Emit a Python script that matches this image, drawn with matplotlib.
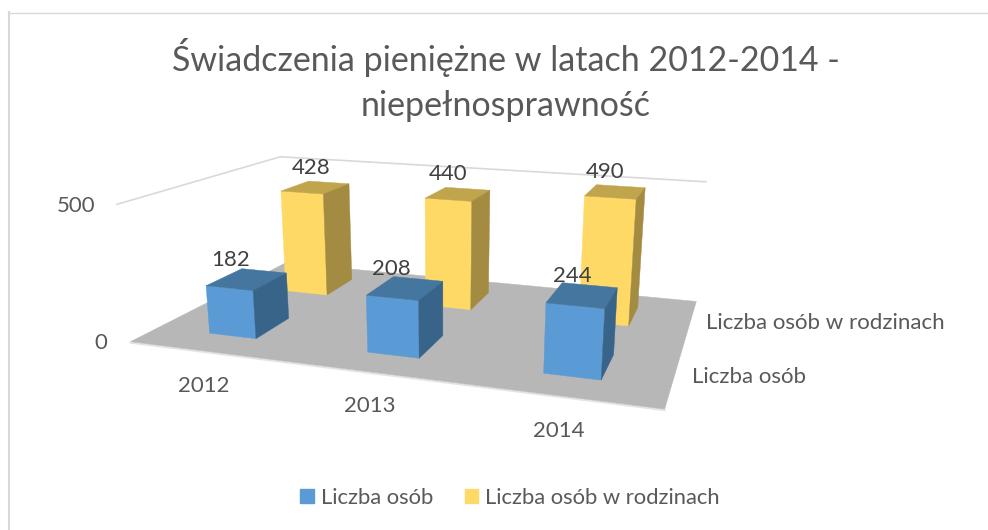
import numpy as np
import matplotlib
matplotlib.use("Agg")
import matplotlib.pyplot as plt
from matplotlib.patches import Patch

plt.rcParams['font.family'] = ['Lato', 'DejaVu Sans']

years = ["2012", "2013", "2014"]
series_names = ["Liczba osób", "Liczba osób w rodzinach"]
liczba_osob = [182, 208, 244]
liczba_rodziny = [428, 440, 490]
value_ticks = [0, 500]

TXT = '#595959'
BLUE = ('#5B9BD5', '#44769F', '#39648A')   # front, top, side
YELLOW = ('#FFD966', '#C0A54C', '#A38C42')

# camera fitted on the plot box: (category, series, value) -> pixel
box3d = np.array([[0, 0, 0], [3, 0, 0], [3, 2, 0], [0, 2, 0],
                  [0, 0, 500], [0, 2, 500], [3, 2, 500]], float)
box2d = np.array([[130, 342], [665, 408], [696, 303], [286, 262],
                  [117, 205], [280, 157], [706, 181]], float)
A, b = [], []
for (X, Y, Z), (u, v) in zip(box3d, box2d):
    A.append([X, Y, Z, 1, 0, 0, 0, 0, -u*X, -u*Y, -u*Z])
    A.append([0, 0, 0, 0, X, Y, Z, 1, -v*X, -v*Y, -v*Z])
    b += [u, v]
P = np.append(np.linalg.lstsq(np.array(A), np.array(b), rcond=None)[0], 1).reshape(3, 4)


def proj(X, Y, Z):
    p = P @ np.array([X, Y, Z, 1.0])
    return p[0] / p[2], p[1] / p[2]


def face(ax, pts, color, z):
    xy = [proj(*p) for p in pts]
    ax.fill([q[0] for q in xy], [q[1] for q in xy], color=color, lw=0.3, zorder=z)


def bar(ax, cat, ser, val, colors, z, label_dx, shift=0.0, hw=0.152):
    x0, x1 = cat + 0.5 - hw + shift, cat + 0.5 + hw + shift
    y0, y1 = ser + 0.5 - 0.205, ser + 0.5 + 0.225
    face(ax, [(x0, y0, 0), (x1, y0, 0), (x1, y0, val), (x0, y0, val)], colors[0], z)
    face(ax, [(x0, y0, val), (x1, y0, val), (x1, y1, val), (x0, y1, val)], colors[1], z)
    face(ax, [(x1, y0, 0), (x1, y1, 0), (x1, y1, val), (x1, y0, val)], colors[2], z)
    lx, ly = proj(cat + 0.5, ser + 0.5, val)
    ax.text(lx + label_dx, ly - 10, str(val), color='#404040', fontsize=16, ha='center', va='bottom', zorder=20)


fig = plt.figure(figsize=(9.88, 5.30), dpi=100)
ax = fig.add_axes([0, 0, 1, 1])
ax.set_xlim(0, 988)
ax.set_ylim(530, 0)
ax.axis('off')

# chart border, only top and left show
ax.plot([8, 988], [12.5, 12.5], color='#D9D9D9', lw=1.0, zorder=1)
ax.plot([9, 9], [12, 530], color='#D9D9D9', lw=1.5, zorder=1)

# floor and gridlines
face(ax, [(0, 0, 0), (3, 0, 0), (3, 2, 0), (0, 2, 0)], '#B7B7B7', 2)
xy = [proj(0, 0, 0), proj(3, 0, 0)]
ax.plot([xy[0][0], xy[1][0]], [xy[0][1] + 1, xy[1][1] + 1], color='#E3E3E3', lw=1.5, zorder=1.5)
for t in value_ticks[1:]:
    xy = [proj(0, 0, t), proj(0, 2, t), proj(3, 2, t)]
    ax.plot([q[0] for q in xy], [q[1] for q in xy], color='#D9D9D9', lw=1.2, zorder=2)

yellow_dx = [-4, -10, -10]
blue_dx = [-17, -15, -11]
for i in range(len(years)):
    bar(ax, i, 1, liczba_rodziny[i], YELLOW, 5 + i * 0.1, yellow_dx[i])
for i in range(len(years)):
    bar(ax, i, 0, liczba_osob[i], BLUE, 10 + i * 0.1, blue_dx[i], shift=-0.006)

ax.text(506, 80, "Świadczenia pieniężne w latach 2012-2014 -\nniepełnosprawność",
        color=TXT, fontsize=24.5, ha='center', va='center', linespacing=1.48)

for t, xp, yp in zip(value_ticks, [107, 95], [343, 206]):
    ax.text(xp, yp, str(t), color=TXT, fontsize=16, ha='right', va='center')
for lab, xp, yp in zip(years, [204, 370, 559], [386, 406, 431]):
    ax.text(xp, yp, lab, color=TXT, fontsize=16, ha='center', va='center')
ax.text(692, 377, series_names[0], color=TXT, fontsize=16, ha='left', va='center')
ax.text(706, 323, series_names[1], color=TXT, fontsize=16, ha='left', va='center')

handles = [Patch(color=BLUE[0]), Patch(color=YELLOW[0])]
ax.legend(handles, series_names, loc='center', bbox_to_anchor=(510 / 988, 1 - 498 / 530),
          ncol=2, frameon=False, fontsize=15.85, labelcolor=TXT, handlelength=0.62, handleheight=0.62,
          handletextpad=0.3, columnspacing=1.45)

fig.savefig("out.png", dpi=100)
